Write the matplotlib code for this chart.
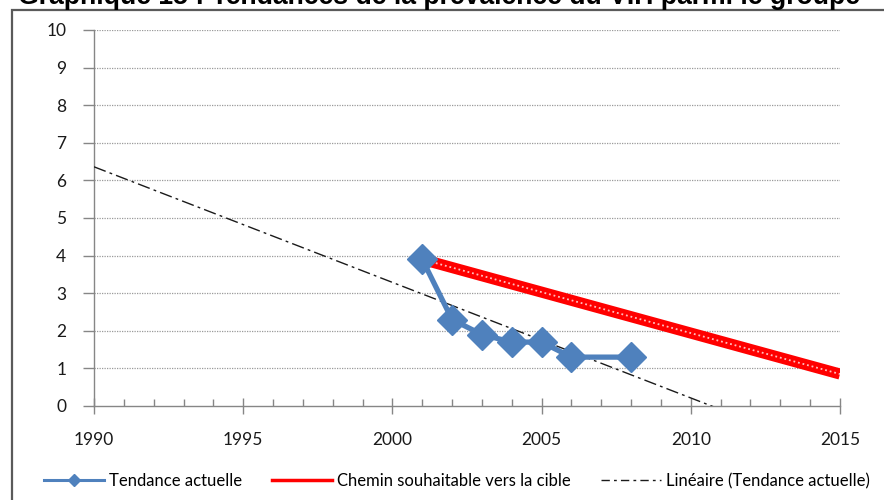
import numpy as np
import matplotlib
matplotlib.use("Agg")
import matplotlib.pyplot as plt
from matplotlib.lines import Line2D
from matplotlib.patches import Rectangle
from matplotlib.ticker import MultipleLocator

# Prévalence observée (%)
annees = [2001, 2002, 2003, 2004, 2005, 2006, 2008]
prevalence = [3.9, 2.3, 1.9, 1.7, 1.7, 1.3, 1.3]

# Chemin souhaitable vers la cible
cible_annees = [2001, 2015]
cible_valeurs = [3.9, 0.85]

titre = "Graphique 15 : Tendances de la prévalence du VIH parmi le groupe"
legende = ["Tendance actuelle", "Chemin souhaitable vers la cible",
           "Linéaire (Tendance actuelle)"]

bleu = "#4F81BD"
gris_axe = "#868686"

plt.rcParams["font.family"] = ["Lato", "DejaVu Sans"]

fig = plt.figure(figsize=(8.84, 5.0), dpi=100)
W, H = 884, 500

# cadre du graphique (coupé à droite et en bas)
fig.patches.append(Rectangle((12 / W, -0.1), 1.2, 1 - 10 / H + 0.1,
                             transform=fig.transFigure, fill=False,
                             edgecolor="#5a5a5a", lw=1.6, zorder=0))

fig.text(18 / W, 1 - 3.5 / H, titre, ha="left", va="baseline",
         fontsize=19.2, fontweight="bold", family=["Liberation Sans", "DejaVu Sans"])

ax = fig.add_axes([94 / W, 1 - 406 / H, (840 - 94) / W, (406 - 30) / H])

# courbe de tendance linéaire (moindres carrés sur les points observés)
pente, origine = np.polyfit(annees, prevalence, 1)
xs = np.array([1990, 2015])
ax.plot(xs, pente * xs + origine, color="#1a1a1a", lw=1.0,
        dashes=(9, 3, 2, 3), zorder=3)

# chemin vers la cible : rouge avec motif pointillé blanc
ax.plot(cible_annees, cible_valeurs, color="#FF0000", lw=8,
        solid_capstyle="butt", zorder=4)
ax.plot(cible_annees, cible_valeurs, color="white", lw=1.3,
        linestyle=(0, (1, 1.6)), alpha=0.75, zorder=5)

ax.plot(annees, prevalence, color=bleu, lw=3.8, marker="D", markersize=15,
        markeredgecolor=bleu, zorder=6)

ax.set_xlim(1990, 2015)
ax.set_ylim(0, 10)
ax.xaxis.set_major_locator(MultipleLocator(5))
ax.xaxis.set_minor_locator(MultipleLocator(1))
ax.yaxis.set_major_locator(MultipleLocator(1))

for y in range(1, 11):
    ax.axhline(y, color="#9a9a9a", lw=0.9, linestyle=(0, (1, 1)), zorder=1)

for s in ["top", "right"]:
    ax.spines[s].set_visible(False)
for s in ["left", "bottom"]:
    ax.spines[s].set_color(gris_axe)
    ax.spines[s].set_linewidth(1.0)

ax.tick_params(axis="y", direction="out", length=8, width=1, color=gris_axe,
               labelsize=12.5, pad=12, labelcolor="#1a1a1a")
ax.tick_params(axis="x", which="major", direction="inout", length=11, width=1,
               color=gris_axe, labelsize=12.5, pad=13, labelcolor="#1a1a1a")
ax.tick_params(axis="x", which="minor", direction="in", length=5, width=1,
               color=gris_axe)

poignees = [
    Line2D([], [], color=bleu, lw=2.2, marker="D", markersize=6.5),
    Line2D([], [], color="#FF0000", lw=2.5),
    Line2D([], [], color="#1a1a1a", lw=1.0, dashes=(6, 3, 2, 3)),
]
fig.legend(poignees, legende, loc="center", bbox_to_anchor=(0.517, 1 - 481 / H),
           ncol=3, frameon=False, fontsize=12, handlelength=3.6,
           columnspacing=1.8, handletextpad=0.3)

fig.savefig("out.png", dpi=100)
